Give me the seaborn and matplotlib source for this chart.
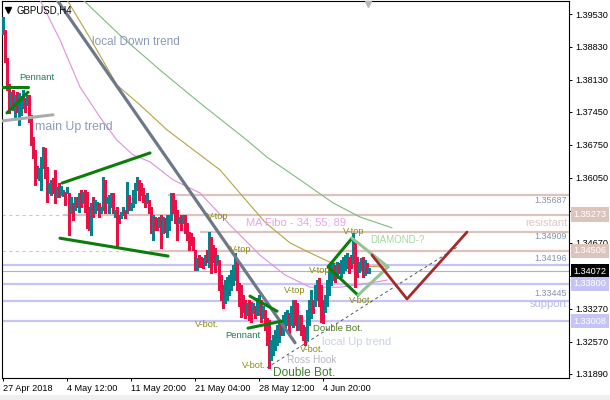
import numpy as np
import pandas as pd
import matplotlib
matplotlib.use("Agg")
import matplotlib.pyplot as plt
import matplotlib.transforms as mtransforms
import seaborn as sns

# ---------------- data ----------------
high = [
    1.3947, 1.3919, 1.3860, 1.3804, 1.3787, 1.3792, 1.3781, 1.3787, 1.3785, 1.3779,
    1.3792, 1.3775, 1.3781, 1.3781, 1.3739, 1.3692, 1.3664, 1.3630, 1.3626, 1.3649,
    1.3670, 1.3668, 1.3628, 1.3594, 1.3601, 1.3605, 1.3622, 1.3586, 1.3594, 1.3588,
    1.3579, 1.3575, 1.3586, 1.3573, 1.3565, 1.3552, 1.3565, 1.3565, 1.3573, 1.3579,
    1.3575, 1.3579, 1.3575, 1.3543, 1.3552, 1.3565, 1.3558, 1.3554, 1.3552, 1.3543,
    1.3607, 1.3601, 1.3565, 1.3569, 1.3573, 1.3573, 1.3537, 1.3543, 1.3526, 1.3533,
    1.3543, 1.3537, 1.3596, 1.3569, 1.3552, 1.3579, 1.3594, 1.3607, 1.3601, 1.3594,
    1.3584, 1.3569, 1.3573, 1.3558, 1.3543, 1.3526, 1.3522, 1.3520, 1.3522, 1.3526,
    1.3522, 1.3520, 1.3526, 1.3526, 1.3573, 1.3573, 1.3558, 1.3537, 1.3522, 1.3526,
    1.3526, 1.3526, 1.3509, 1.3490, 1.3488, 1.3479, 1.3452, 1.3435, 1.3441, 1.3437,
    1.3435, 1.3441, 1.3452, 1.3490, 1.3479, 1.3463, 1.3456, 1.3441, 1.3431, 1.3399,
    1.3377, 1.3388, 1.3394, 1.3399, 1.3409, 1.3420, 1.3446, 1.3427, 1.3382, 1.3377,
    1.3356, 1.3345, 1.3339, 1.3345, 1.3341, 1.3339, 1.3334, 1.3350, 1.3356, 1.3345,
    1.3334, 1.3324, 1.3307, 1.3303, 1.3261, 1.3271, 1.3282, 1.3292, 1.3303, 1.3303,
    1.3314, 1.3320, 1.3324, 1.3318, 1.3334, 1.3345, 1.3345, 1.3339, 1.3314, 1.3314,
    1.3292, 1.3288, 1.3324, 1.3345, 1.3367, 1.3345, 1.3377, 1.3388, 1.3392, 1.3377,
    1.3345, 1.3356, 1.3388, 1.3414, 1.3420, 1.3424, 1.3420, 1.3427, 1.3424, 1.3431,
    1.3437, 1.3441, 1.3446, 1.3437, 1.3441, 1.3488, 1.3467, 1.3437, 1.3427, 1.3435,
    1.3437, 1.3431, 1.3424, 1.3414,
]
low = [
    1.3911, 1.3851, 1.3792, 1.3743, 1.3754, 1.3749, 1.3732, 1.3745, 1.3717, 1.3739,
    1.3754, 1.3745, 1.3760, 1.3724, 1.3675, 1.3647, 1.3590, 1.3605, 1.3601, 1.3579,
    1.3626, 1.3605, 1.3554, 1.3573, 1.3569, 1.3573, 1.3552, 1.3565, 1.3565, 1.3569,
    1.3567, 1.3548, 1.3573, 1.3484, 1.3531, 1.3516, 1.3537, 1.3543, 1.3533, 1.3543,
    1.3552, 1.3533, 1.3498, 1.3494, 1.3484, 1.3522, 1.3531, 1.3537, 1.3522, 1.3531,
    1.3537, 1.3531, 1.3552, 1.3531, 1.3543, 1.3531, 1.3522, 1.3458, 1.3509, 1.3520,
    1.3526, 1.3520, 1.3531, 1.3537, 1.3537, 1.3543, 1.3552, 1.3579, 1.3558, 1.3569,
    1.3554, 1.3543, 1.3552, 1.3531, 1.3488, 1.3473, 1.3494, 1.3494, 1.3501, 1.3456,
    1.3488, 1.3490, 1.3479, 1.3494, 1.3516, 1.3531, 1.3509, 1.3473, 1.3509, 1.3494,
    1.3509, 1.3488, 1.3473, 1.3452, 1.3463, 1.3452, 1.3409, 1.3409, 1.3416, 1.3416,
    1.3414, 1.3420, 1.3427, 1.3416, 1.3403, 1.3427, 1.3405, 1.3420, 1.3367, 1.3345,
    1.3328, 1.3339, 1.3345, 1.3356, 1.3367, 1.3377, 1.3388, 1.3367, 1.3334, 1.3309,
    1.3320, 1.3307, 1.3314, 1.3303, 1.3299, 1.3318, 1.3307, 1.3314, 1.3314, 1.3299,
    1.3307, 1.3282, 1.3250, 1.3202, 1.3219, 1.3229, 1.3240, 1.3250, 1.3257, 1.3271,
    1.3271, 1.3282, 1.3292, 1.3276, 1.3292, 1.3288, 1.3292, 1.3282, 1.3282, 1.3271,
    1.3261, 1.3250, 1.3261, 1.3292, 1.3307, 1.3318, 1.3334, 1.3345, 1.3334, 1.3299,
    1.3297, 1.3320, 1.3334, 1.3356, 1.3377, 1.3388, 1.3384, 1.3392, 1.3403, 1.3394,
    1.3403, 1.3409, 1.3414, 1.3403, 1.3414, 1.3424, 1.3373, 1.3394, 1.3405, 1.3409,
    1.3394, 1.3399, 1.3403, 1.3403,
]
# u = bullish bar (teal), d = bearish bar (red)
direction = ("udddududuu" "ududdddduu" "udduuddudu" "ududududud" "uddduduudu"
             "uduuududdu" "ududuuuudd" "ddudduddud" "uduuudddud" "uddddddudd"
             "dududddudd" "duuuuuuddd" "ddudduduud" "uddduuuuud" "uuuduuddud"
             "dduuuduudd" "duuuuududu" "uuuddudduu" "dudu")

xtick_pos = [0, 32, 64, 96, 128, 160]
xtick_labels = ["27 Apr 2018", "4 May 12:00", "11 May 20:00",
                "21 May 04:00", "28 May 12:00", "4 Jun 20:00"]
ytick_vals = [1.31890, 1.32570, 1.33270, 1.33970, 1.34670, 1.35350,
              1.36050, 1.36750, 1.37450, 1.38130, 1.38830, 1.39530]
# tick labels hidden under the price boxes in the reference
ytick_hidden = [1.33970, 1.35350]

# moving averages (MA Fibo 34 / 55 / 89), sampled along the curves
ma34_x = [18.7, 28.7, 38.7, 48.7, 57.2, 65.2, 73.7, 85.2, 98.7, 113.7, 128.7, 141.2, 153.7, 168.7, 183.7, 192.2]
ma34_y = [1.3983, 1.3898, 1.3798, 1.3734, 1.3685, 1.3654, 1.3639, 1.3601, 1.3573, 1.3505, 1.3441, 1.3399, 1.3373, 1.3373, 1.3382, 1.3388]
ma55_x = [32.2, 43.7, 57.2, 68.7, 82.2, 98.7, 108.7, 120.2, 131.2, 143.7, 153.7, 163.7, 173.7, 192.7]
ma55_y = [1.3983, 1.3902, 1.3802, 1.3760, 1.3707, 1.3654, 1.3622, 1.3565, 1.3511, 1.3467, 1.3446, 1.3426, 1.3418, 1.3416]
ma89_x = [40.2, 58.7, 78.7, 98.7, 122.2, 132.2, 148.7, 165.2, 178.7, 194.7]
ma89_y = [1.3983, 1.3908, 1.3834, 1.3764, 1.3685, 1.3649, 1.3601, 1.3552, 1.3522, 1.3499]

# trend lines / patterns (bar index, price)
down_x = [27.2, 146.2];        down_y = [1.3983, 1.3255]
mainup_x = [-0.3, 25.2];       mainup_y = [1.3726, 1.3739]
pen1a_x = [-0.3, 12.7];        pen1a_y = [1.3798, 1.3798]
pen1b_x = [2.2, 12.7];         pen1b_y = [1.3743, 1.3787]
wedge_up_x = [29.7, 73.7];     wedge_up_y = [1.3594, 1.3658]
wedge_lo_x = [28.7, 82.7];     wedge_lo_y = [1.3477, 1.3439]
pen2a_x = [123.7, 137.2];      pen2a_y = [1.3354, 1.3322]
pen2b_x = [122.7, 139.7];      pen2b_y = [1.3286, 1.3301]
diam_dark_x = [174.7, 162.7, 177.7];  diam_dark_y = [1.3477, 1.3416, 1.3356]
diam_light_x = [174.7, 192.7, 177.7]; diam_light_y = [1.3477, 1.3416, 1.3356]
forecast_x = [184.7, 202.2, 232.2];   forecast_y = [1.3441, 1.3348, 1.3490]
uptrend_x = [132.2, 227.2];    uptrend_y = [1.3202, 1.3458]

# horizontal levels
pink_levels = [1.35687, 1.35273, 1.34909, 1.34506]
pink_start = [82.7, 30.2, 98.7, 73.7]
pink_dashed = [False, True, False, True]
blue_levels = [1.34196, 1.33800, 1.33445, 1.33008]
last_price = 1.34072

box_labels = ["1.35273", "1.34506", "1.34072", "1.33800", "1.33008"]
box_prices = [1.35273, 1.34506, 1.34072, 1.33800, 1.33008]
box_colors = ["#dcc4bd", "#dcc4bd", "#000000", "#c4c4f6", "#c4c4f6"]

inner_labels = ["1.35687", "resistant", "1.34909", "1.34196", "1.33445", "support"]
inner_prices = [1.3558, 1.3509, 1.3481, 1.3433, 1.3359, 1.3338]
inner_colors = ["#8494ac", "#e3c6c6", "#8494ac", "#8494ac", "#8494ac", "#b9b9f0"]
inner_sizes = [6.5, 8, 6.5, 6.5, 6.5, 8]

vtop_x = [102.2, 113.7, 140.7, 153.2, 170.2]
vtop_y = [1.3524, 1.3452, 1.3367, 1.3409, 1.3492]
vbot_x = [96.2, 119.7, 148.7, 173.2]
vbot_y = [1.3293, 1.3206, 1.3240, 1.3344]

# ---------------- drawing ----------------
sns.set_style("white")
plt.rcParams['font.family'] = ['Liberation Sans', 'DejaVu Sans']

fig = plt.figure(figsize=(6.1, 4.0), dpi=100)
ax = fig.add_axes([2 / 610, 22 / 400, 567 / 610, 377 / 400])
ax.set_axisbelow(True)

n = min(len(high), len(low), len(direction))
idx = np.arange(n)
df = pd.DataFrame({"i": idx, "high": high[:n], "low": low[:n],
                   "dir": list(direction[:n])})
cols = np.where(df["dir"] == "u", "#00838a", "#ea0f47")
ax.vlines(df["i"], df["low"], df["high"], colors=cols, linewidth=0.75,
          antialiased=False, zorder=4)

# levels
for p, s, dsh in zip(pink_levels, pink_start, pink_dashed):
    if dsh:
        ax.plot([-0.3, s], [p, p], color="#dcc4bd", lw=0.8, ls=(0, (3, 3)), zorder=2)
    ax.plot([s, 283.2], [p, p], color="#dcc4bd", lw=1.6, zorder=2, solid_capstyle="butt")
for p in blue_levels:
    ax.plot([-0.3, 283.2], [p, p], color="#c4c4f6", lw=1.6, zorder=2, solid_capstyle="butt")
ax.plot([-0.3, 283.2], [last_price, last_price], color="#b4b4b4", lw=0.8, zorder=2)

# moving averages
sns.lineplot(x=ma34_x, y=ma34_y, ax=ax, color="#e08fe0", lw=0.8, sort=False, estimator=None, zorder=3)
sns.lineplot(x=ma55_x, y=ma55_y, ax=ax, color="#b5a443", lw=0.8, sort=False, estimator=None, zorder=3)
sns.lineplot(x=ma89_x, y=ma89_y, ax=ax, color="#7fba7f", lw=0.8, sort=False, estimator=None, zorder=3)

# trend lines
sns.lineplot(x=down_x, y=down_y, ax=ax, color="#6d7888", lw=2.3, sort=False, estimator=None, zorder=5)
sns.lineplot(x=mainup_x, y=mainup_y, ax=ax, color="#ababab", lw=2.2, sort=False, estimator=None, zorder=5)
for xs, ys in [(pen1a_x, pen1a_y), (pen1b_x, pen1b_y), (wedge_up_x, wedge_up_y),
               (wedge_lo_x, wedge_lo_y), (pen2a_x, pen2a_y), (pen2b_x, pen2b_y),
               (diam_dark_x, diam_dark_y)]:
    sns.lineplot(x=xs, y=ys, ax=ax, color="#0a7d0a", lw=2.2, sort=False, estimator=None, zorder=6)
sns.lineplot(x=diam_light_x, y=diam_light_y, ax=ax, color="#94c494", lw=2.2, sort=False, estimator=None, zorder=6)
sns.lineplot(x=forecast_x, y=forecast_y, ax=ax, color="#a52a2a", lw=2.0, sort=False, estimator=None, zorder=6)
ax.plot(uptrend_x, uptrend_y, color="#555555", lw=0.7, ls=(0, (3, 3)), zorder=6)

# labels
def lab(x, y, s, color, size, **kw):
    ax.text(x, y, s, color=color, fontsize=size, va="center", ha="left", zorder=8, **kw)

lab(44.7, 1.3894, "local Down trend", "#8a9bb8", 8.5)
lab(16.2, 1.3713, "main Up trend", "#8a9bb8", 8.8)
lab(8.2, 1.3819, "Pennant", "#237a58", 6.8)
lab(111.2, 1.3271, "Pennant", "#237a58", 6.8)
lab(121.7, 1.3511, "MA Fibo - 34; 55; 89", "#e6a6e6", 8)
lab(183.7, 1.3473, "DIAMOND-?", "#a6d6a0", 7)
for x, y in zip(vtop_x, vtop_y):
    lab(x, y, "V-top", "#8a8a12", 6.6)
for x, y in zip(vbot_x, vbot_y):
    lab(x, y, "V-bot.", "#8a8a12", 6.6)
lab(155.2, 1.3286, "Double Bot.", "#4f7a1f", 6.8)
lab(135.2, 1.3191, "Double Bot.", "#3c7d2a", 8.6)
lab(142.2, 1.3219, "Ross Hook", "#b7b7bf", 7.3)
lab(159.7, 1.3257, "local Up trend", "#c9d1e1", 8)

trans_r = mtransforms.blended_transform_factory(ax.transAxes, ax.transData)
for s, p, c, fs in zip(inner_labels, inner_prices, inner_colors, inner_sizes):
    ax.text(0.997, p, s, transform=trans_r, ha="right", va="center",
            color=c, fontsize=fs, zorder=8)

for s, p, c in zip(box_labels, box_prices, box_colors):
    ax.text(1.0085, p, s, transform=trans_r, ha="left", va="center",
            color="white", fontsize=6.6, zorder=20, clip_on=False,
            bbox=dict(boxstyle="square,pad=0.28", fc=c, ec="none"))

ax.text(0.026, 0.976, "GBPUSD,H4", transform=ax.transAxes, fontsize=6.9,
        color="black", va="center", ha="left", zorder=8)
ax.plot([0.011], [0.976], marker="v", color="black", ms=4.5,
        transform=ax.transAxes, zorder=8)
ax.plot([0.6455], [0.993], marker="v", color="#b8b8b8", ms=5,
        transform=ax.transAxes, zorder=8, clip_on=False)

# axes
ax.set_xlim(-0.3, 283.2)
ax.set_ylim(1.31802, 1.39806)
ax.set_xlabel("")
ax.set_ylabel("")
ax.yaxis.tick_right()
ax.set_yticks(ytick_vals)
ax.set_yticklabels(["" if v in ytick_hidden else f"{v:.5f}" for v in ytick_vals])
ax.set_xticks(xtick_pos)
ax.set_xticklabels(xtick_labels, ha="left")
ax.tick_params(axis="y", direction="out", length=2.5, width=0.7, pad=2,
               labelsize=6.6, colors="black", right=True, left=False)
ax.tick_params(axis="x", direction="out", length=2.5, width=0.7, pad=2,
               labelsize=6.6, colors="black", bottom=True)
for sp in ax.spines.values():
    sp.set_color("black")
    sp.set_linewidth(0.8)
    sp.set_visible(True)
ax.grid(False)

fig.patches.append(plt.Rectangle((0, 0), 1, 5 / 400, transform=fig.transFigure,
                                 fc="#efefef", ec="none", zorder=0))

fig.savefig("out.png", dpi=100)
